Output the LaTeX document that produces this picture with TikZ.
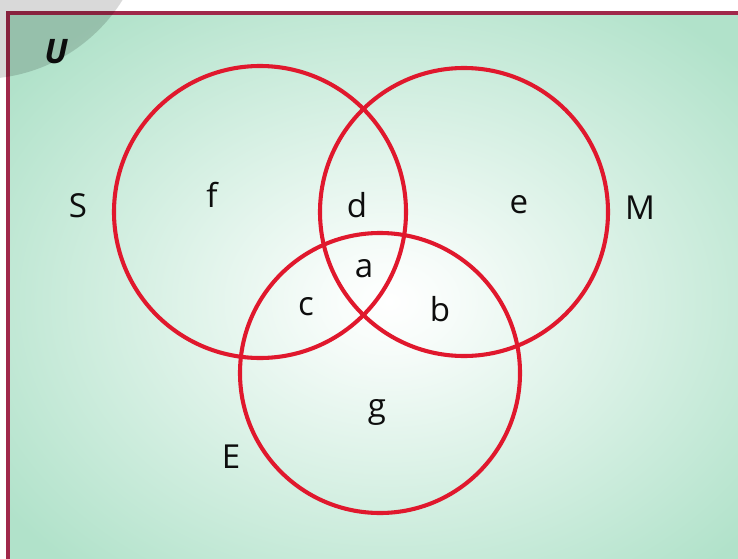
\documentclass[tikz,border=0pt]{standalone}
\usepackage{fontspec}
\setsansfont{Open Sans}
\usepackage{tikz}
\usetikzlibrary{positioning}
\usepackage{xcolor}
\definecolor{ringred}{HTML}{E0182D}
\definecolor{framered}{HTML}{A0284A}
\definecolor{vgreen}{HTML}{B1E2CA}
\colorlet{vpale}{white!90!vgreen}
\pgfdeclareradialshading{glow}{\pgfpoint{0bp}{0bp}}{color(0bp)=(white); color(4bp)=(vpale); color(31bp)=(vgreen); color(50bp)=(vgreen)}

\begin{document}
\begin{tikzpicture}[x=0.025cm,y=-0.025cm,
  ring/.style={draw=ringred,line width=2.9pt},
  lbl/.style={font=\sffamily\fontsize{23.5}{27}\selectfont,text=black!95,inner sep=0pt}]
  \useasboundingbox (0,0) rectangle (738,559);
  \clip (0,0) rectangle (738,559);
  \fill[white] (0,0) rectangle (738,559);
  % universe box, runs off the right and bottom edges
  \shade[shading=glow] (8,13) rectangle (770,590);
  \draw[draw=framered,line width=2.2pt] (8,13) rectangle (770,590);
  \fill[black,opacity=0.15] (-20,-89) circle (168);
  \node[lbl,font=\sffamily\bfseries\itshape\fontsize{24}{27}\selectfont] (u) at (56,52) {U};
  % the three sets
  \coordinate (cS) at (260,212);
  \coordinate (cM) at (464,212);
  \coordinate (cE) at (380,373);
  \draw[ring] (cS) circle (146);
  \draw[ring] (cM) circle (144);
  \draw[ring] (cE) circle (140);
  \node[lbl] (nS) at (78,206) {S};
  \node[lbl] (nM) at (640,208) {M};
  \node[lbl] (nE) at (231,457) {E};
  \node[lbl] (f) at (212,195) {f};
  \node[lbl] (d) at (357,205) {d};
  \node[lbl] (e) at (519,205) {e};
  \node[lbl] (a) at (364,269) {a};
  \node[lbl] (c) at (306,307) {c};
  \node[lbl] (b) at (440,309) {b};
  \node[lbl] (g) at (377,412) {g};
\end{tikzpicture}
\end{document}
